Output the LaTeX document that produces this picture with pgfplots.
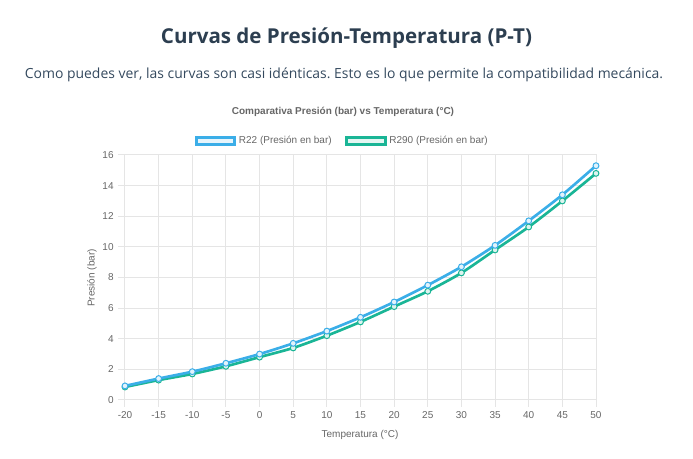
\documentclass[border=0pt]{standalone}
\usepackage{pgfplots}
\pgfplotsset{compat=1.18}
\usepackage{fontspec}
\setmainfont{Liberation Sans}
\newfontfamily\headfont{Open Sans}
\definecolor{r22}{HTML}{3BAEE8}
\definecolor{r290}{HTML}{1AB596}
\definecolor{gridc}{HTML}{E5E5E5}
\definecolor{tickc}{HTML}{666666}
\definecolor{headc}{HTML}{2C3E50}
\definecolor{subc}{HTML}{34495E}
\frenchspacing
\begin{document}
\begin{tikzpicture}
\useasboundingbox (0,0) rectangle (693*0.75pt,-459*0.75pt);
\begin{axis}[
  at={(125*0.75pt,-400*0.75pt)}, anchor=south west,
  scale only axis, width=353.25pt, height=183.75pt,
  xmin=-20, xmax=50, ymin=0, ymax=16,
  xtick={-20,-15,...,50},
  xticklabels={-20,-15,-10,-5,0,5,10,15,20,25,30,35,40,45,50},
  ytick={0,2,...,16},
  xtick pos=bottom, ytick pos=left,
  grid=major, major grid style={gridc, line width=0.75pt},
  axis line style={gridc, line width=0.75pt},
  tick style={gridc, line width=0.75pt},
  tick align=outside, major tick length=5pt,
  ticklabel style={font=\fontsize{7.5}{9}\selectfont, text=tickc},
  /pgf/number format/assume math mode=true,
  reverse legend,
  legend style={at={(0.4618,1.057)}, anchor=center, draw=none, fill=none,
    legend columns=2, font=\fontsize{7.5}{9}\selectfont, text=tickc,
    /tikz/every even column/.append style={column sep=8pt}},
]
\addplot[r290, line width=2pt, smooth, tension=0.4, mark=*, mark size=2.2pt,
  mark options={fill=r290!15, draw=r290, line width=0.75pt},
  legend image code/.code={\draw[r290, line width=2.25pt, fill=r290!12] (0pt,-2.6pt) rectangle (29pt,2.6pt);}]
coordinates {(-20,0.85) (-15,1.3) (-10,1.7) (-5,2.2) (0,2.8) (5,3.4) (10,4.2) (15,5.1) (20,6.1) (25,7.1) (30,8.3) (35,9.8) (40,11.3) (45,13.0) (50,14.8)};
\addlegendentry{R290 (Presión en bar)}
\addplot[r22, line width=2pt, smooth, tension=0.4, mark=*, mark size=2.2pt,
  mark options={fill=r22!15, draw=r22, line width=0.75pt},
  legend image code/.code={\draw[r22, line width=2.25pt, fill=r22!12] (0pt,-2.6pt) rectangle (29pt,2.6pt);}]
coordinates {(-20,0.92) (-15,1.4) (-10,1.85) (-5,2.4) (0,3.0) (5,3.7) (10,4.5) (15,5.4) (20,6.4) (25,7.5) (30,8.7) (35,10.1) (40,11.7) (45,13.4) (50,15.3)};
\addlegendentry{R22 (Presión en bar)}
\end{axis}
\node[font=\headfont\bfseries\fontsize{15.4}{18}\selectfont, text=headc] at (346.5*0.75pt,-38*0.75pt) {Curvas de Presión-Temperatura (P-T)};
\node[font=\headfont\fontsize{10.45}{13}\selectfont, text=subc] at (344*0.75pt,-75*0.75pt) {Como puedes ver, las curvas son casi idénticas. Esto es lo que permite la compatibilidad mecánica.};
\node[font=\bfseries\fontsize{7.5}{9}\selectfont, text=tickc] at (343*0.75pt,-112*0.75pt) {Comparativa Presión (bar) vs Temperatura (°C)};
\node[font=\fontsize{7.5}{9}\selectfont, text=tickc, rotate=90] at (92*0.75pt,-278*0.75pt) {Presión (bar)};
\node[font=\fontsize{7.5}{9}\selectfont, text=tickc] at (360*0.75pt,-435*0.75pt) {Temperatura (°C)};
\end{tikzpicture}
\end{document}
